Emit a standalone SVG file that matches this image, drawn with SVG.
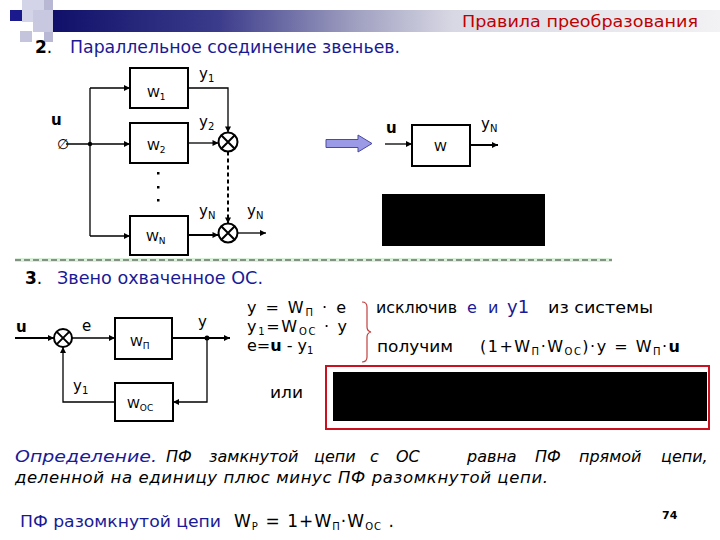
<svg xmlns="http://www.w3.org/2000/svg" width="720" height="540" viewBox="0 0 720 540">
<defs>
<linearGradient id="bar" x1="53" y1="0" x2="720" y2="0" gradientUnits="userSpaceOnUse">
<stop offset="0" stop-color="#10106a"/>
<stop offset="0.25" stop-color="#3c3c8c"/>
<stop offset="0.45" stop-color="#9e9ec0"/>
<stop offset="0.6" stop-color="#d8d8e4"/>
<stop offset="1" stop-color="#f2f2f4"/>
</linearGradient>
<marker id="ah" viewBox="0 0 10 10" refX="10" refY="5" markerWidth="7" markerHeight="6" markerUnits="userSpaceOnUse" orient="auto">
<path d="M0,0 L10,5 L0,10 z" fill="#000"/>
</marker>
</defs>
<style>
.t{font-family:"DejaVu Sans","Liberation Sans",sans-serif;fill:#000}
.b{fill:#1a1a96}
.r{fill:#c00000}
.box{fill:#fff;stroke:#000;stroke-width:2}
.ln{stroke:#000;stroke-width:1.3;fill:none}
.th{stroke:#000;stroke-width:2;fill:none}
.sum{fill:#fff;stroke:#000;stroke-width:2}
.lbl{font-size:13px}
.it{font-style:italic}
</style>
<rect width="720" height="540" fill="#fff"/>

<!-- header decoration -->
<g id="header">
<rect x="22" y="0" width="31" height="22" fill="#d4d4e8"/>
<rect x="44" y="0" width="9" height="42" fill="#b8b8d4"/>
<rect x="20" y="31" width="12" height="11" fill="#c4c4dc"/>
<rect x="33" y="10" width="20" height="22" fill="#c8c8e0"/>
<rect x="53" y="10" width="667" height="22" fill="url(#bar)"/>
<rect x="10" y="10" width="12" height="11" fill="#1a1a8c"/>
<text class="t r" x="462" y="27" font-size="16" textLength="236" lengthAdjust="spacingAndGlyphs">Правила преобразования</text>
</g>

<text class="t" x="35" y="53" font-size="17"><tspan font-weight="bold">2</tspan><tspan>.</tspan></text>
<text class="t b" x="70" y="53" font-size="17" textLength="330" lengthAdjust="spacingAndGlyphs">Параллельное соединение звеньев.</text>

<!-- parallel connection -->
<g id="W1"><rect class="box" x="130" y="68" width="58" height="40"/><text class="t lbl" x="147" y="97">W<tspan dy="3" font-size="9">1</tspan></text></g>
<g id="W2"><rect class="box" x="130" y="123" width="58" height="40"/><text class="t lbl" x="147" y="150">W<tspan dy="3" font-size="9">2</tspan></text></g>
<g id="WN"><rect class="box" x="130" y="216" width="58" height="39"/><text class="t lbl" x="146" y="241">W<tspan dy="3" font-size="9">N</tspan></text></g>
<g id="sum2"><circle class="sum" cx="228" cy="142" r="9.5"/><path class="th" d="M221.3,135.3 L234.7,148.7 M234.7,135.3 L221.3,148.7"/></g>
<g id="sumN"><circle class="sum" cx="228" cy="233" r="9.5"/><path class="th" d="M221.3,226.3 L234.7,239.7 M234.7,226.3 L221.3,239.7"/></g>
<g id="dots" fill="#000"><rect x="157" y="172" width="2.5" height="2.5"/><rect x="157" y="186" width="2.5" height="2.5"/><rect x="157" y="199" width="2.5" height="2.5"/></g>

<g id="connectors1">
<path class="ln" d="M66,144 L130,144" marker-end="url(#ah)"/>
<path class="ln" d="M90,88 L90,236"/>
<path class="ln" d="M90,88 L130,88" marker-end="url(#ah)"/>
<path class="ln" d="M90,236 L130,236" marker-end="url(#ah)"/>
<circle cx="90" cy="144" r="2.2" fill="#000"/>
<path class="ln" d="M188,88 L228,88 L228,132.5" marker-end="url(#ah)"/>
<path class="ln" d="M188,143 L218.5,143" marker-end="url(#ah)"/>
<path class="th" d="M228,151.5 L228,223.5" stroke-dasharray="4 3" marker-end="url(#ah)"/>
<path class="th" d="M188,235 L218.5,235" marker-end="url(#ah)"/>
<path class="ln" d="M237.5,233 L266,233" marker-end="url(#ah)"/>
</g>
<text class="t" x="51" y="125" font-size="15" font-weight="bold">u</text>
<text class="t" x="57" y="149" font-size="14" font-style="italic">∅</text>
<text class="t" x="199" y="79" font-size="15">y<tspan dy="3" font-size="10">1</tspan></text>
<text class="t" x="199" y="127" font-size="15">y<tspan dy="3" font-size="10">2</tspan></text>
<text class="t" x="199" y="216" font-size="15">y<tspan dy="3" font-size="10">N</tspan></text>
<text class="t" x="247" y="216" font-size="15">y<tspan dy="3" font-size="10">N</tspan></text>

<!-- block arrow -->
<path d="M326,139.5 L358,139.5 L358,135 L372,143.5 L358,152 L358,147.5 L326,147.5 z" fill="#9a9ae6" stroke="#4a4aa0" stroke-width="1"/>

<!-- equivalent -->
<g id="W"><rect class="box" x="412" y="125" width="58" height="41"/><text class="t lbl" x="434" y="151">W</text></g>
<g id="connectors2">
<path class="ln" d="M385,144 L412,144" marker-end="url(#ah)"/>
<path class="th" d="M470,145 L498,145" marker-end="url(#ah)"/>
</g>
<text class="t" x="386" y="133" font-size="15" font-weight="bold">u</text>
<text class="t" x="481" y="129" font-size="15">y<tspan dy="3" font-size="10">N</tspan></text>
<rect x="382" y="194" width="163" height="52" fill="#000"/>

<!-- separator -->
<path d="M15,260 L612,260" stroke="#d8f0d8" stroke-width="4"/>
<path d="M15,260 L612,260" stroke="#333" stroke-width="1" stroke-dasharray="6 3"/>

<text class="t" x="25" y="284" font-size="17"><tspan font-weight="bold">3</tspan><tspan>.</tspan></text>
<text class="t b" x="57" y="284" font-size="17" textLength="206" lengthAdjust="spacingAndGlyphs">Звено охваченное ОС.</text>

<!-- feedback loop -->
<g id="WP"><rect class="box" x="115" y="318" width="57" height="41"/><text class="t lbl" x="130" y="346">W<tspan dy="3" font-size="9">П</tspan></text></g>
<g id="WOC"><rect class="box" x="115" y="383" width="58" height="38"/><text class="t lbl" x="127" y="408">W<tspan dy="3" font-size="9">OC</tspan></text></g>
<g id="sumF"><circle class="sum" cx="63" cy="338" r="9"/><path class="th" d="M56.6,331.6 L69.4,344.4 M69.4,331.6 L56.6,344.4"/></g>
<g id="connectors3">
<path class="th" d="M15,338 L54,338" marker-end="url(#ah)"/>
<path class="ln" d="M72,338 L115,338" marker-end="url(#ah)"/>
<path class="th" d="M172,338 L230,338" marker-end="url(#ah)"/>
<circle cx="207" cy="338" r="2.5" fill="#000"/>
<path class="ln" d="M207,338 L207,402 L173,402" marker-end="url(#ah)"/>
<path class="ln" d="M115,402 L63,402 L63,347" marker-end="url(#ah)"/>
</g>
<text class="t" x="16" y="332" font-size="15" font-weight="bold">u</text>
<text class="t" x="82" y="331" font-size="15">e</text>
<text class="t" x="198" y="327" font-size="15">y</text>
<text class="t" x="73" y="391" font-size="15">y<tspan dy="3" font-size="10">1</tspan></text>

<!-- equations -->
<text class="t" x="247" y="313" font-size="16" textLength="99" lengthAdjust="spacing">y = W<tspan dy="3" font-size="10">П</tspan><tspan dy="-3"> · e</tspan></text>
<text class="t" x="247" y="332" font-size="16" textLength="100" lengthAdjust="spacing">y<tspan dy="3" font-size="10">1</tspan><tspan dy="-3">=W</tspan><tspan dy="3" font-size="10">OC</tspan><tspan dy="-3"> · y</tspan></text>
<text class="t" x="247" y="351" font-size="16">e=<tspan font-weight="bold">u</tspan> - y<tspan dy="3" font-size="10">1</tspan></text>
<path d="M362,302 Q367,302 367,307 L367,327 Q367,331 371,332 Q367,333 367,337 L367,357 Q367,362 362,362" fill="none" stroke="#c04040" stroke-width="1.2"/>
<text class="t" x="376" y="313" font-size="16" textLength="81" lengthAdjust="spacingAndGlyphs">исключив</text>
<text class="t b" x="467" y="313" font-size="16">e</text>
<text class="t b" x="488" y="313" font-size="16">и</text>
<text class="t b" x="507" y="313" font-size="18">y1</text>
<text class="t" x="548" y="313" font-size="16" textLength="105" lengthAdjust="spacingAndGlyphs">из системы</text>
<text class="t" x="377" y="352" font-size="16" textLength="76" lengthAdjust="spacingAndGlyphs">получим</text>
<text class="t" x="480" y="352" font-size="16" textLength="200" lengthAdjust="spacing">(1+W<tspan dy="3" font-size="10">П</tspan><tspan dy="-3">·W</tspan><tspan dy="3" font-size="10">OC</tspan><tspan dy="-3">)·y = W</tspan><tspan dy="3" font-size="10">П</tspan><tspan dy="-3">·</tspan><tspan font-weight="bold">u</tspan></text>
<text class="t" x="270" y="398" font-size="16" textLength="33" lengthAdjust="spacingAndGlyphs">или</text>
<rect x="326" y="366" width="383" height="63" fill="#fff" stroke="#cc1020" stroke-width="2"/>
<rect x="333" y="372" width="374" height="49" fill="#000"/>

<!-- definition -->
<text class="t it b" x="15" y="462" font-size="16" textLength="142" lengthAdjust="spacingAndGlyphs">Определение.</text>
<text class="t it" y="462" font-size="16"><tspan x="166">ПФ</tspan><tspan x="209">замкнутой</tspan><tspan x="314">цепи</tspan><tspan x="370">с</tspan><tspan x="396">ОС</tspan><tspan x="467">равна</tspan><tspan x="535">ПФ</tspan><tspan x="579">прямой</tspan><tspan x="661">цепи,</tspan></text>
<text class="t it" x="15" y="483" font-size="16.5" textLength="533" lengthAdjust="spacing">деленной на единицу плюс минус ПФ разомкнутой цепи.</text>
<text class="t b" x="20" y="527" font-size="16" textLength="201" lengthAdjust="spacingAndGlyphs">ПФ разомкнутой цепи</text>
<text class="t" x="234" y="527" font-size="17" textLength="160" lengthAdjust="spacing">W<tspan dy="3" font-size="10">P</tspan><tspan dy="-3"> = 1+W</tspan><tspan dy="3" font-size="10">П</tspan><tspan dy="-3">·W</tspan><tspan dy="3" font-size="10">OC</tspan><tspan dy="-3"> .</tspan></text>
<text class="t" x="662" y="519" font-size="11" font-weight="bold">74</text>
</svg>
